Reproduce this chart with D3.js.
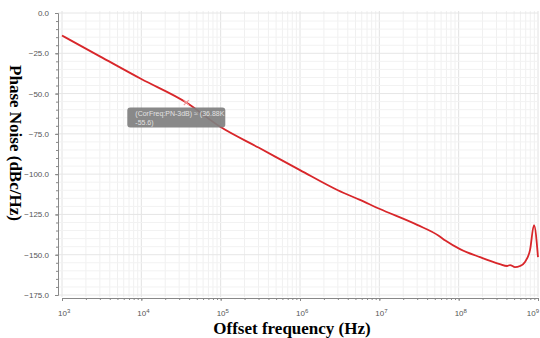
<!DOCTYPE html>
<html>
<head>
<meta charset="utf-8">
<script src="https://cdn.jsdelivr.net/npm/d3@7"></script>
<style>
  body { margin: 0; background: #fff; }
  svg { display: block; }
</style>
</head>
<body>
<div id="chart"></div>
<script>
// offset frequency (Hz) and phase noise (dBc/Hz)
const freqs = [1e3, 3e3, 1e4, 3.688e4, 1e5, 3e5, 1e6, 3e6, 5.7e6, 1e7, 3e7, 5.6e7, 6.8e7,
  1.04e8, 1.86e8, 3.3e8, 4.07e8, 4.44e8, 5.13e8, 5.93e8, 6.86e8, 7.94e8, 8.9e8, 1e9];
const phaseNoise = [-14, -26.9, -41, -55.6, -70.8, -83.5, -97.5, -110, -116, -121.5, -131.5, -138.2, -141.2,
  -146.5, -151.5, -155.8, -157, -156.4, -157.7, -157, -154.5, -147, -131.6, -151.5];
const yTicks = [0, -25, -50, -75, -100, -125, -150, -175];
const xDecades = [1e3, 1e4, 1e5, 1e6, 1e7, 1e8, 1e9];
const marker = { freq: 3.688e4, value: -55.6, label: ["(CorFreq:PN-3dB) \u2248 (36.88K", "-55.6)"] };

const width = 540, height = 338;
const svg = d3.select("#chart").append("svg")
  .attr("width", width).attr("height", height);

const x = d3.scaleLog().domain([1e3, 1e9]).range([62, 538]);
const y = d3.scaleLinear().domain([-175, 0]).range([295, 13]);

// grid
const minorX = [];
xDecades.slice(0, -1).forEach(d => { for (let k = 1; k < 10; k++) minorX.push(d * k); });
minorX.push(1e9);
svg.append("g").selectAll("line").data(minorX).join("line")
  .attr("x1", d => x(d)).attr("x2", d => x(d))
  .attr("y1", 11).attr("y2", 297)
  .attr("stroke", d => xDecades.includes(d) ? "#e2e2e2" : "#f0f0f0")
  .attr("stroke-width", 1);

const minorY = d3.range(-175, 1, 5);
svg.append("g").selectAll("line").data(minorY).join("line")
  .attr("x1", 58).attr("x2", 538)
  .attr("y1", d => y(d)).attr("y2", d => y(d))
  .attr("stroke", d => d % 25 === 0 ? "#e6e6e6" : "#f2f2f2")
  .attr("stroke-width", 1);

// y axis
const yAxis = svg.append("g").attr("transform", "translate(58,0)")
  .call(d3.axisLeft(y).tickValues(yTicks).tickFormat(d3.format(".1f")).tickSize(3).tickPadding(6));
svg.append("g").attr("transform", "translate(58,0)")
  .call(d3.axisLeft(y).tickValues(minorY).tickFormat("").tickSize(2))
  .select(".domain").remove();

// x axis
svg.append("g").attr("transform", "translate(0,298)")
  .call(d3.axisBottom(x).tickValues(xDecades).tickFormat("").tickSize(3));
svg.append("g").attr("transform", "translate(0,298)")
  .call(d3.axisBottom(x).tickValues(minorX).tickFormat("").tickSize(2))
  .select(".domain").remove();

svg.selectAll(".domain").attr("stroke", "#888");
svg.selectAll(".tick line").attr("stroke", "#888");
yAxis.selectAll("text").attr("fill", "#555").attr("font-size", 8)
  .attr("font-family", "Liberation Sans, Arial, sans-serif");

// decade labels with superscripts (last one kept inside the frame)
const xl = svg.append("g").selectAll("text").data(xDecades).join("text")
  .attr("x", (d, i) => i === xDecades.length - 1 ? 539 : x(d) - 4).attr("y", 316)
  .attr("text-anchor", (d, i) => i === xDecades.length - 1 ? "end" : "start")
  .attr("fill", "#555").attr("font-size", 8)
  .attr("font-family", "Liberation Sans, Arial, sans-serif");
xl.append("tspan").text("10");
xl.append("tspan").attr("dy", -3).attr("font-size", 6).text(d => Math.round(Math.log10(d)));

// curve
const pts = freqs.map((f, i) => [f, phaseNoise[i]]);
const line = d3.line().x(d => x(d[0])).y(d => y(d[1])).curve(d3.curveMonotoneX);
svg.append("path").datum(pts)
  .attr("d", line)
  .attr("fill", "none")
  .attr("stroke", "#d8262a")
  .attr("stroke-width", 1.8);

// marker and tooltip
const mx = x(marker.freq), my = y(marker.value);
svg.append("path")
  .attr("d", `M${mx - 2.5},${my - 2.5}L${mx + 2.5},${my + 2.5}M${mx - 2.5},${my + 2.5}L${mx + 2.5},${my - 2.5}`)
  .attr("stroke", "#f29a9a").attr("stroke-width", 1.2);
const tip = svg.append("g").attr("transform", `translate(${mx - 59},${my + 5})`);
tip.append("rect").attr("width", 98).attr("height", 20).attr("rx", 3)
  .attr("fill", "#7f7f7f").attr("opacity", 0.92);
tip.selectAll("text").data(marker.label).join("text")
  .attr("x", 8).attr("y", (d, i) => 8 + i * 9)
  .attr("fill", "#e2e2e2").attr("font-size", 7)
  .attr("font-family", "Liberation Sans, Arial, sans-serif")
  .text(d => d);

// axis titles
svg.append("text")
  .attr("x", 292).attr("y", 334)
  .attr("text-anchor", "middle")
  .attr("font-family", "Liberation Serif, Times New Roman, serif")
  .attr("font-weight", "bold").attr("font-size", 17)
  .text("Offset frequency (Hz)");
svg.append("text")
  .attr("transform", "translate(10,143) rotate(90)")
  .attr("text-anchor", "middle")
  .attr("font-family", "Liberation Serif, Times New Roman, serif")
  .attr("font-weight", "bold").attr("font-size", 17)
  .text("Phase Noise (dBc/Hz)");
</script>
</body>
</html>
